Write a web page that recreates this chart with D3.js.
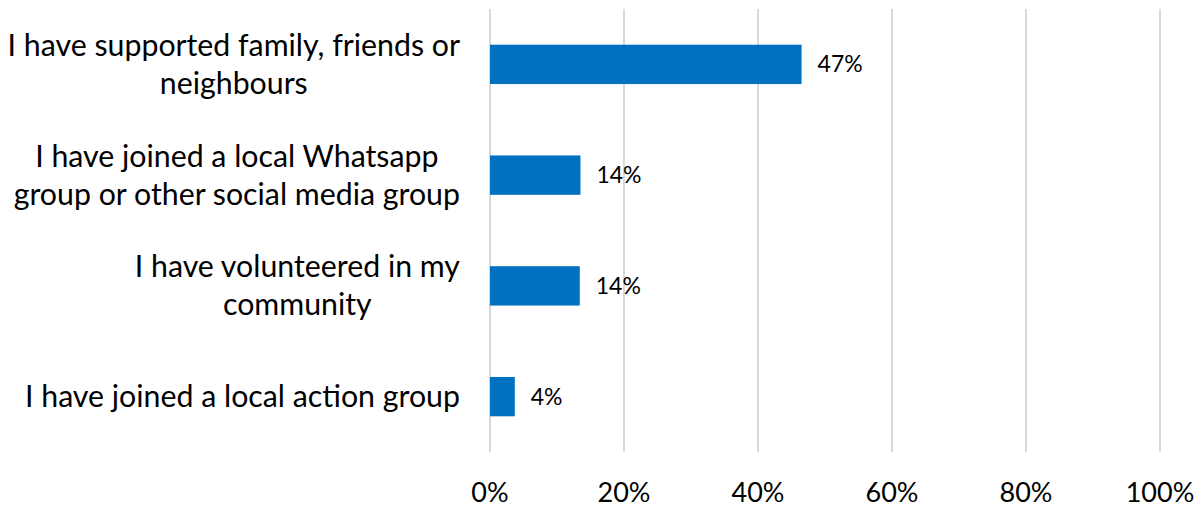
<!DOCTYPE html>
<html>
<head>
<meta charset="utf-8">
<script src="https://cdn.jsdelivr.net/npm/d3@7"></script>
<style>
  body { margin: 0; background: #fff; }
  text { font-family: Lato, "Open Sans", sans-serif; fill: #000; }
</style>
</head>
<body>
<div id="chart"></div>
<script>
// chart values
const categories = [
  ["I have supported family, friends or", "neighbours"],
  ["I have joined a local Whatsapp", "group or other social media group"],
  ["I have volunteered in my", "community"],
  ["I have joined a local action group"]
]
const values = [0.465, 0.135, 0.134, 0.037]
const valueLabels = ["47%", "14%", "14%", "4%"]
const ticks = [0, 0.2, 0.4, 0.6, 0.8, 1]

const width = 1199, height = 507
const plotLeft = 490, plotRight = 1160, plotTop = 9, plotBottom = 452

var svg = d3.select("#chart").append("svg")
            .attr("width", width)
            .attr("height", height)

var x = d3.scaleLinear().domain([0, 1]).range([plotLeft, plotRight])
var y = d3.scaleBand().domain(d3.range(values.length)).range([plotTop, plotBottom]).paddingInner(0.645).paddingOuter(0.3225)

// gridlines
svg.selectAll("line.grid")
   .data(ticks)
   .enter()
   .append("line")
   .attr("class", "grid")
   .attr("x1", d => x(d)).attr("x2", d => x(d))
   .attr("y1", plotTop).attr("y2", plotBottom)
   .attr("stroke", "#d9d9d9")
   .attr("stroke-width", 2)

// tick labels
svg.selectAll("text.tick")
   .data(ticks)
   .enter()
   .append("text")
   .attr("class", "tick")
   .attr("x", d => x(d))
   .attr("y", 493)
   .attr("dy", "0.35em")
   .attr("text-anchor", "middle")
   .style("font-size", "27px")
   .text(d3.format(".0%"))

// bars
svg.selectAll("rect.bar")
   .data(values)
   .enter()
   .append("rect")
   .attr("class", "bar")
   .attr("x", x(0))
   .attr("y", (d, i) => y(i))
   .attr("width", d => x(d) - x(0))
   .attr("height", y.bandwidth())
   .attr("fill", "#0070c0")

// value labels
svg.selectAll("text.value")
   .data(values)
   .enter()
   .append("text")
   .attr("class", "value")
   .attr("x", d => x(d) + 16)
   .attr("y", (d, i) => y(i) + y.bandwidth() / 2)
   .attr("dy", "0.35em")
   .style("font-size", "23px")
   .text((d, i) => valueLabels[i])

// category labels: lines centred within the block, block right-aligned to axis
const labelRight = 460, lineGap = 38
categories.forEach(function (lines, i) {
  var cy = y(i) + y.bandwidth() / 2
  var g = svg.append("g")
  var texts = lines.map(function (line, j) {
    return g.append("text")
            .attr("y", cy + (j - (lines.length - 1) / 2) * lineGap)
            .attr("dy", "0.35em")
            .attr("text-anchor", "middle")
            .style("font-size", "30.3px")
            .text(line)
  })
  var maxW = d3.max(texts, t => t.node().getComputedTextLength())
  texts.forEach(t => t.attr("x", labelRight - maxW / 2))
})
</script>
</body>
</html>
